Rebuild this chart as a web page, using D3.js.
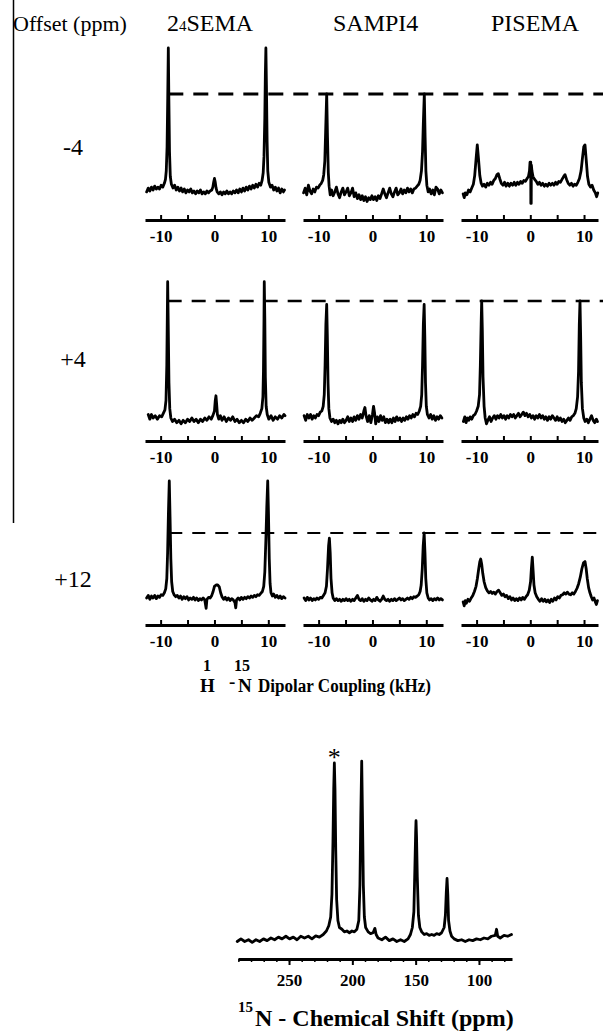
<!DOCTYPE html>
<html><head><meta charset="utf-8">
<script src="https://cdn.jsdelivr.net/npm/d3@7"></script>
<style>body{margin:0;background:#fff} svg{display:block}</style>
</head><body><svg id="c" width="603" height="1033"></svg>
<script>
// ---------------- DATA ----------------
const methods = ["SEMA", "SAMPI4", "PISEMA"];   // first is drawn as 2₄SEMA
const offsets = ["-4", "+4", "+12"];
const kHzTicks = [-10, -5, 0, 5, 10];
const kHzLabels = [-10, 0, 10];
const ppmMajorTicks = [250, 200, 150, 100];
const ppmMinorTicks = [290, 280, 270, 260, 250, 240, 230, 220, 210, 200, 190, 180, 170, 160, 150, 140, 130, 120, 110, 100, 90, 80];
const starPeak = 214.2;

// [kHz, intensity] ; intensity 1 = dashed reference level of the row
const sema_m4 = [[-12.6,-0.02],[-12.3,0.02],[-12.0,-0.01],[-11.7,0.03],[-11.4,0.0],[-11.1,0.04],[-10.8,0.01],[-10.5,0.03],[-10.2,0.01],[-9.9,0.05],[-9.6,0.03],[-9.3,0.07],[-9.1,0.11],[-8.95,0.2],[-8.8,0.45],[-8.68,0.95],[-8.57,1.48],[-8.47,0.95],[-8.35,0.4],[-8.2,0.14],[-8.0,0.06],[-7.7,0.02],[-7.4,0.05],[-7.1,0.0],[-6.8,0.03],[-6.5,-0.01],[-6.2,0.02],[-5.9,-0.02],[-5.6,0.01],[-5.3,-0.03],[-5.0,0.0],[-4.7,-0.02],[-4.4,0.01],[-4.1,-0.03],[-3.8,-0.01],[-3.5,-0.04],[-3.2,-0.01],[-2.9,-0.03],[-2.6,0.0],[-2.3,-0.04],[-2.0,-0.02],[-1.7,-0.04],[-1.4,-0.01],[-1.1,-0.03],[-0.8,-0.01],[-0.5,0.0],[-0.3,0.03],[-0.15,0.08],[0.0,0.12],[0.15,0.08],[0.3,0.02],[0.5,-0.02],[0.8,-0.04],[1.1,-0.02],[1.4,-0.05],[1.7,-0.02],[2.0,-0.04],[2.3,-0.01],[2.6,-0.04],[2.9,-0.02],[3.2,-0.04],[3.5,-0.01],[3.8,-0.03],[4.1,0.0],[4.4,-0.03],[4.7,0.01],[5.0,-0.02],[5.3,0.02],[5.6,-0.01],[5.9,0.03],[6.2,0.0],[6.5,0.04],[6.8,0.01],[7.1,0.05],[7.4,0.02],[7.7,0.06],[8.0,0.03],[8.3,0.07],[8.6,0.05],[8.85,0.1],[9.05,0.18],[9.2,0.35],[9.35,0.75],[9.45,1.2],[9.55,1.48],[9.65,1.1],[9.78,0.5],[9.9,0.2],[10.1,0.08],[10.4,0.03],[10.7,0.05],[11.0,0.0],[11.3,0.03],[11.6,-0.01],[11.9,0.02],[12.2,-0.03],[12.5,0.01],[12.8,-0.02],[13.0,0.0]];
const sampi_m4 = [[-12.8,-0.03],[-12.5,0.02],[-12.2,-0.05],[-11.9,0.05],[-11.6,-0.01],[-11.3,-0.04],[-11.0,0.01],[-10.7,-0.02],[-10.4,0.03],[-10.1,0.02],[-9.8,0.05],[-9.5,0.07],[-9.25,0.1],[-9.05,0.16],[-8.85,0.3],[-8.7,0.6],[-8.5,1.0],[-8.35,0.55],[-8.2,0.18],[-8.05,0.04],[-7.85,-0.05],[-7.6,0.0],[-7.3,-0.06],[-7.0,-0.02],[-6.7,0.03],[-6.4,-0.04],[-6.1,-0.08],[-5.8,-0.02],[-5.5,0.02],[-5.2,-0.05],[-4.9,-0.02],[-4.6,0.02],[-4.3,-0.06],[-4.0,-0.03],[-3.7,0.02],[-3.4,-0.07],[-3.1,-0.03],[-2.8,-0.09],[-2.5,-0.05],[-2.2,-0.1],[-1.9,-0.06],[-1.6,-0.11],[-1.3,-0.07],[-1.0,-0.12],[-0.7,-0.08],[-0.4,-0.1],[-0.1,-0.06],[0.2,-0.1],[0.5,-0.07],[0.8,-0.11],[1.1,-0.06],[1.4,-0.09],[1.7,-0.04],[2.0,0.01],[2.3,-0.04],[2.6,-0.08],[2.9,-0.03],[3.2,0.02],[3.5,-0.04],[3.8,-0.07],[4.1,-0.02],[4.4,0.02],[4.7,-0.05],[5.0,-0.03],[5.3,0.01],[5.6,-0.04],[5.9,0.0],[6.2,-0.03],[6.5,0.02],[6.8,-0.02],[7.1,0.01],[7.4,-0.03],[7.7,0.01],[8.0,0.02],[8.3,0.04],[8.6,0.06],[8.85,0.1],[9.1,0.2],[9.3,0.4],[9.45,0.7],[9.63,1.0],[9.78,0.55],[9.92,0.2],[10.1,0.05],[10.35,-0.02],[10.6,0.01],[10.9,-0.04],[11.2,0.0],[11.5,-0.05],[11.8,0.03],[12.1,0.01],[12.4,-0.04],[12.7,0.0],[13.0,-0.03]];
const pisema_m4 = [[-12.5,-0.04],[-12.3,-0.08],[-12.1,-0.03],[-11.8,-0.05],[-11.5,0.0],[-11.2,-0.02],[-10.9,0.02],[-10.6,0.06],[-10.35,0.15],[-10.1,0.32],[-9.87,0.47],[-9.65,0.33],[-9.4,0.15],[-9.15,0.07],[-8.9,0.04],[-8.6,0.06],[-8.3,0.03],[-8.0,0.07],[-7.7,0.05],[-7.4,0.08],[-7.1,0.06],[-6.8,0.1],[-6.5,0.12],[-6.2,0.16],[-5.96,0.17],[-5.7,0.12],[-5.4,0.07],[-5.1,0.05],[-4.8,0.08],[-4.5,0.04],[-4.2,0.07],[-3.9,0.04],[-3.6,0.07],[-3.3,0.05],[-3.0,0.08],[-2.7,0.05],[-2.4,0.08],[-2.1,0.06],[-1.8,0.09],[-1.5,0.07],[-1.2,0.1],[-0.9,0.09],[-0.6,0.12],[-0.35,0.14],[-0.15,0.2],[-0.05,0.29],[0.08,0.29],[0.1,-0.14],[0.17,-0.14],[0.2,0.26],[0.3,0.2],[0.5,0.14],[0.8,0.11],[1.1,0.09],[1.4,0.06],[1.7,0.08],[2.0,0.05],[2.3,0.07],[2.6,0.04],[2.9,0.06],[3.2,0.04],[3.5,0.07],[3.8,0.05],[4.1,0.07],[4.4,0.05],[4.7,0.08],[5.0,0.06],[5.3,0.09],[5.6,0.08],[5.9,0.11],[6.2,0.14],[6.46,0.16],[6.75,0.11],[7.05,0.07],[7.35,0.05],[7.65,0.07],[7.95,0.04],[8.25,0.06],[8.55,0.05],[8.85,0.08],[9.15,0.12],[9.45,0.2],[9.7,0.33],[9.95,0.45],[10.18,0.47],[10.4,0.32],[10.65,0.14],[10.9,0.06],[11.2,0.03],[11.5,0.05],[11.8,0.0],[12.1,-0.03],[12.35,-0.07],[12.55,-0.03]];

const sema_p4 = [[-12.3,0.03],[-12.0,-0.01],[-11.7,0.03],[-11.4,0.0],[-11.0,0.02],[-10.6,-0.01],[-10.2,0.02],[-9.8,0.01],[-9.5,0.04],[-9.2,0.07],[-9.0,0.15],[-8.85,0.45],[-8.75,0.9],[-8.69,1.165],[-8.6,0.85],[-8.45,0.3],[-8.3,0.08],[-8.1,0.0],[-7.8,-0.03],[-7.4,-0.01],[-7.0,-0.04],[-6.6,-0.02],[-6.2,-0.05],[-5.8,-0.02],[-5.4,-0.04],[-5.0,-0.01],[-4.6,-0.03],[-4.2,0.0],[-3.8,-0.03],[-3.4,-0.01],[-3.0,-0.04],[-2.6,-0.01],[-2.2,-0.03],[-1.8,0.0],[-1.4,-0.02],[-1.0,0.01],[-0.6,-0.01],[-0.3,0.02],[0.0,0.06],[0.15,0.15],[0.28,0.19],[0.4,0.12],[0.55,0.03],[0.8,-0.01],[1.1,0.02],[1.4,-0.02],[1.8,0.01],[2.2,-0.03],[2.6,0.0],[3.0,-0.02],[3.4,0.01],[3.8,-0.03],[4.2,-0.01],[4.6,-0.04],[5.0,-0.02],[5.4,-0.04],[5.8,-0.01],[6.2,-0.03],[6.6,0.0],[7.0,-0.02],[7.4,0.0],[7.8,0.02],[8.2,0.01],[8.5,0.04],[8.8,0.08],[9.0,0.18],[9.1,0.4],[9.2,0.85],[9.25,1.165],[9.35,0.85],[9.45,0.35],[9.6,0.1],[9.8,0.03],[10.1,-0.01],[10.5,0.02],[10.9,-0.02],[11.3,0.01],[11.7,-0.01],[12.1,0.02],[12.5,0.0],[12.9,0.03],[13.1,0.02]];
const sampi_p4 = [[-12.7,0.02],[-12.4,-0.02],[-12.1,0.03],[-11.8,0.0],[-11.5,0.03],[-11.2,-0.01],[-10.9,0.02],[-10.6,0.0],[-10.3,0.03],[-10.0,0.02],[-9.7,0.05],[-9.4,0.06],[-9.15,0.1],[-8.95,0.2],[-8.8,0.45],[-8.65,0.8],[-8.5,0.97],[-8.38,0.7],[-8.25,0.3],[-8.1,0.08],[-7.9,0.0],[-7.6,-0.03],[-7.3,-0.01],[-7.0,-0.04],[-6.7,-0.02],[-6.4,-0.05],[-6.1,-0.02],[-5.8,-0.04],[-5.5,-0.01],[-5.2,-0.04],[-4.9,-0.02],[-4.6,0.01],[-4.3,-0.03],[-4.0,0.0],[-3.7,-0.03],[-3.4,0.01],[-3.1,-0.02],[-2.8,0.02],[-2.5,-0.01],[-2.2,0.03],[-1.9,0.0],[-1.6,0.06],[-1.4,0.09],[-1.2,0.02],[-0.9,-0.03],[-0.6,0.02],[-0.3,-0.04],[0.0,0.03],[0.2,0.1],[0.4,0.04],[0.6,-0.05],[0.9,0.01],[1.2,-0.03],[1.5,0.02],[1.8,-0.02],[2.1,0.01],[2.4,-0.04],[2.7,-0.01],[3.0,-0.04],[3.3,-0.01],[3.6,-0.04],[3.9,0.0],[4.2,-0.03],[4.5,0.01],[4.8,-0.02],[5.1,0.0],[5.4,-0.03],[5.7,0.0],[6.0,-0.02],[6.3,0.01],[6.6,-0.01],[6.9,0.02],[7.2,0.0],[7.5,0.03],[7.8,0.01],[8.1,0.04],[8.4,0.03],[8.7,0.06],[8.95,0.1],[9.15,0.2],[9.3,0.45],[9.45,0.8],[9.6,0.97],[9.72,0.7],[9.85,0.3],[10.0,0.1],[10.2,0.03],[10.5,0.0],[10.8,0.03],[11.1,-0.01],[11.4,0.02],[11.7,-0.02],[12.0,0.01],[12.3,-0.01],[12.6,0.02],[12.9,0.0]];
const pisema_p4 = [[-12.45,-0.03],[-12.2,0.01],[-11.95,-0.04],[-11.7,0.0],[-11.45,-0.02],[-11.2,0.01],[-10.9,-0.01],[-10.6,0.02],[-10.3,0.03],[-10.0,0.06],[-9.7,0.1],[-9.45,0.2],[-9.3,0.45],[-9.15,0.8],[-9.05,1.0],[-8.93,0.75],[-8.8,0.35],[-8.6,0.1],[-8.4,0.0],[-8.15,-0.05],[-7.9,-0.02],[-7.6,0.01],[-7.3,-0.03],[-7.0,0.0],[-6.7,0.02],[-6.4,-0.01],[-6.1,0.02],[-5.8,0.0],[-5.5,0.03],[-5.2,0.0],[-4.9,0.02],[-4.6,-0.01],[-4.3,0.02],[-4.0,0.0],[-3.7,0.03],[-3.4,0.01],[-3.1,0.03],[-2.8,0.0],[-2.5,0.02],[-2.2,0.04],[-1.9,0.01],[-1.6,0.03],[-1.3,0.05],[-1.0,0.02],[-0.7,0.04],[-0.4,0.01],[-0.1,0.03],[0.2,0.0],[0.5,0.02],[0.8,-0.01],[1.1,0.02],[1.4,0.0],[1.7,0.03],[2.0,0.0],[2.3,0.02],[2.6,-0.01],[2.9,0.01],[3.2,-0.02],[3.5,0.01],[3.8,-0.01],[4.1,0.02],[4.4,0.0],[4.7,-0.02],[5.0,0.01],[5.3,-0.02],[5.6,0.0],[5.9,-0.03],[6.2,-0.01],[6.5,-0.04],[6.8,-0.02],[7.1,0.0],[7.4,-0.02],[7.7,0.01],[8.0,0.02],[8.3,0.04],[8.55,0.08],[8.8,0.18],[8.98,0.4],[9.12,0.8],[9.25,1.0],[9.37,0.7],[9.5,0.3],[9.7,0.08],[9.95,0.0],[10.2,-0.03],[10.5,-0.01],[10.8,-0.04],[11.1,-0.01],[11.4,0.02],[11.7,-0.02],[12.0,-0.04],[12.3,-0.01],[12.5,-0.03]];

const sema_p12 = [[-12.6,0.0],[-12.3,0.04],[-12.0,-0.02],[-11.7,0.03],[-11.4,0.0],[-11.1,0.04],[-10.8,-0.01],[-10.5,0.03],[-10.2,0.01],[-9.9,0.05],[-9.6,0.04],[-9.3,0.08],[-9.05,0.14],[-8.85,0.3],[-8.7,0.7],[-8.55,1.3],[-8.39,1.8],[-8.25,1.25],[-8.1,0.6],[-7.95,0.25],[-7.75,0.1],[-7.5,0.05],[-7.2,0.02],[-6.9,0.04],[-6.6,0.0],[-6.3,0.03],[-6.0,-0.02],[-5.7,0.02],[-5.4,-0.01],[-5.1,0.02],[-4.8,-0.03],[-4.5,0.0],[-4.2,-0.02],[-3.9,0.01],[-3.6,-0.03],[-3.3,0.0],[-3.0,-0.04],[-2.7,-0.01],[-2.4,-0.03],[-2.1,0.0],[-1.8,-0.03],[-1.55,-0.16],[-1.4,-0.02],[-1.1,0.01],[-0.8,0.0],[-0.5,0.04],[-0.25,0.1],[0.0,0.18],[0.3,0.2],[0.6,0.2],[0.9,0.17],[1.15,0.08],[1.4,0.02],[1.7,-0.02],[2.0,0.01],[2.3,-0.03],[2.6,0.0],[2.9,-0.04],[3.2,-0.01],[3.5,-0.03],[3.8,-0.07],[3.95,-0.15],[4.1,-0.03],[4.4,0.0],[4.7,-0.03],[5.0,0.01],[5.3,-0.02],[5.6,0.01],[5.9,-0.01],[6.2,0.02],[6.5,0.0],[6.8,0.03],[7.1,0.01],[7.4,0.04],[7.7,0.02],[8.0,0.05],[8.3,0.04],[8.6,0.07],[8.9,0.1],[9.15,0.18],[9.35,0.4],[9.55,0.9],[9.72,1.4],[9.89,1.8],[10.03,1.3],[10.18,0.6],[10.33,0.22],[10.5,0.08],[10.75,0.03],[11.0,0.06],[11.3,0.01],[11.6,0.04],[11.9,0.0],[12.2,0.03],[12.5,-0.01],[12.8,0.02],[13.1,0.0]];
const sampi_p12 = [[-12.7,0.0],[-12.4,-0.04],[-12.1,0.01],[-11.8,-0.03],[-11.5,0.0],[-11.2,-0.04],[-10.9,-0.01],[-10.6,-0.03],[-10.3,0.0],[-10.0,-0.02],[-9.7,0.01],[-9.4,0.0],[-9.1,0.04],[-8.8,0.08],[-8.55,0.18],[-8.35,0.45],[-8.15,0.8],[-8.0,0.92],[-7.85,0.7],[-7.7,0.3],[-7.5,0.08],[-7.3,0.0],[-7.0,-0.04],[-6.7,-0.01],[-6.4,-0.04],[-6.1,-0.02],[-5.8,-0.05],[-5.5,-0.02],[-5.2,-0.04],[-4.9,-0.01],[-4.6,-0.04],[-4.3,-0.02],[-4.0,-0.05],[-3.7,-0.02],[-3.4,-0.04],[-3.1,0.0],[-2.8,0.04],[-2.5,-0.02],[-2.2,-0.04],[-1.9,-0.01],[-1.6,-0.05],[-1.3,-0.02],[-1.0,-0.04],[-0.7,0.0],[-0.4,-0.03],[-0.1,-0.05],[0.2,-0.02],[0.5,-0.04],[0.8,0.01],[1.1,-0.03],[1.4,-0.05],[1.7,-0.02],[2.0,0.03],[2.3,-0.02],[2.6,-0.04],[2.9,-0.02],[3.2,-0.05],[3.5,-0.02],[3.8,-0.04],[4.1,-0.01],[4.4,-0.04],[4.7,-0.02],[5.0,0.0],[5.3,-0.03],[5.6,-0.01],[5.9,-0.04],[6.2,-0.02],[6.5,0.0],[6.8,-0.02],[7.1,0.01],[7.4,-0.01],[7.7,0.02],[8.0,0.01],[8.3,0.03],[8.6,0.05],[8.85,0.1],[9.05,0.2],[9.25,0.45],[9.42,0.8],[9.6,1.0],[9.75,0.7],[9.9,0.3],[10.1,0.08],[10.35,0.0],[10.6,-0.03],[10.9,-0.01],[11.2,-0.04],[11.5,-0.01],[11.8,-0.03],[12.1,0.0],[12.4,-0.03],[12.7,-0.01],[13.0,-0.03]];
const pisema_p12 = [[-12.5,-0.06],[-12.3,-0.12],[-12.1,-0.04],[-11.9,-0.08],[-11.6,-0.02],[-11.3,-0.05],[-11.0,0.0],[-10.7,0.04],[-10.4,0.1],[-10.1,0.18],[-9.85,0.3],[-9.6,0.45],[-9.4,0.56],[-9.23,0.6],[-9.05,0.52],[-8.85,0.38],[-8.6,0.25],[-8.3,0.16],[-8.0,0.11],[-7.7,0.08],[-7.4,0.1],[-7.1,0.07],[-6.8,0.09],[-6.5,0.06],[-6.2,0.1],[-5.9,0.12],[-5.6,0.08],[-5.3,0.04],[-5.0,0.06],[-4.7,0.02],[-4.4,0.04],[-4.1,-0.01],[-3.8,0.02],[-3.5,-0.03],[-3.2,0.0],[-2.9,-0.04],[-2.6,-0.01],[-2.3,-0.04],[-2.0,0.0],[-1.7,-0.03],[-1.4,0.01],[-1.1,-0.02],[-0.8,0.02],[-0.5,0.05],[-0.2,0.12],[0.05,0.25],[0.2,0.45],[0.37,0.63],[0.52,0.42],[0.68,0.2],[0.9,0.08],[1.2,0.02],[1.5,-0.02],[1.8,-0.05],[2.1,-0.01],[2.4,-0.05],[2.7,-0.02],[3.0,-0.06],[3.3,-0.03],[3.6,-0.07],[3.9,-0.02],[4.2,-0.05],[4.5,0.0],[4.8,-0.03],[5.1,0.02],[5.4,0.0],[5.7,0.04],[6.0,0.05],[6.3,0.08],[6.6,0.06],[6.9,0.09],[7.2,0.06],[7.5,0.05],[7.8,0.08],[8.1,0.06],[8.4,0.1],[8.7,0.15],[9.0,0.22],[9.3,0.32],[9.6,0.45],[9.9,0.54],[10.18,0.56],[10.4,0.45],[10.6,0.3],[10.85,0.16],[11.1,0.08],[11.35,0.02],[11.6,-0.03],[11.85,0.0],[12.1,-0.06],[12.3,-0.1],[12.5,-0.04]];

// [ppm, intensity] 15N spectrum, 1 = starred peak
const nShift = [[290.9,-0.02],[288,-0.005],[285,-0.02],[282,-0.01],[279.1,-0.025],[276.1,-0.01],[273.2,-0.02],[270.2,-0.005],[267.3,-0.015],[264.3,0.0],[261.4,-0.01],[258.4,0.005],[255.5,-0.005],[252.5,0.01],[249.6,-0.005],[246.6,0.005],[243.7,-0.01],[240.7,0.01],[237.8,0.0],[234.8,0.01],[231.9,-0.005],[228.9,0.012],[226,0.005],[223,0.02],[220.5,0.04],[218.6,0.07],[217.1,0.12],[216.1,0.25],[215.3,0.55],[214.7,0.85],[214.2,1.0],[213.7,0.85],[213.1,0.5],[212.4,0.22],[211.4,0.1],[210.2,0.06],[208.2,0.05],[206.3,0.035],[204.3,0.04],[202.3,0.03],[200.3,0.04],[198.4,0.035],[196.4,0.05],[194.9,0.1],[194,0.3],[193.3,0.7],[192.6,1.01],[192,0.7],[191.3,0.3],[190.5,0.12],[189.5,0.06],[187.5,0.035],[185.6,0.025],[183.6,0.03],[182.2,0.055],[181.2,0.02],[179.7,0.0],[176.7,-0.01],[173.8,0.005],[170.8,-0.015],[167.9,-0.005],[164.9,-0.02],[161.9,-0.01],[159,-0.02],[156,-0.005],[154.1,0.02],[152.6,0.06],[151.4,0.15],[150.6,0.4],[150,0.6],[149.7,0.67],[149.3,0.58],[148.7,0.35],[147.8,0.13],[146.7,0.06],[145.2,0.035],[143.2,0.02],[141.3,0.025],[139.3,0.015],[137.3,0.02],[135.4,0.015],[133.4,0.025],[131.4,0.02],[129.5,0.03],[127.5,0.06],[126.5,0.13],[125.8,0.26],[125.2,0.34],[124.6,0.25],[124,0.1],[122.9,0.04],[121.6,0.01],[119.6,-0.005],[116.7,-0.015],[113.7,-0.01],[110.8,-0.02],[107.8,-0.01],[104.9,-0.015],[101.9,-0.005],[98.9,-0.01],[96,0.0],[93,-0.005],[90.1,0.01],[87.1,0.015],[86.1,0.05],[85.2,0.01],[83.2,0.0],[80.2,0.015],[77.3,0.01],[74.3,0.02]];

// ---------------- DRAW ----------------
const SERIF = '"Liberation Serif","Times New Roman",Times,serif';
const svg = d3.select("#c");
svg.append("rect").attr("width",603).attr("height",1033).attr("fill","#fff");

const spectra = [[sema_m4, sampi_m4, pisema_m4],[sema_p4, sampi_p4, pisema_p4],[sema_p12, sampi_p12, pisema_p12]];
const colRanges = [[145,285],[303,443],[461,598]];
const colDomains = [[-12.9,13.1],[-12.9,13.1],[-12.9,12.6]];
const rowsL = [
  {base:190, unit:96,  axis:220, dw:3,   dash:"15,10", labY:155},
  {base:418, unit:117, axis:441, dw:2.5, dash:"14,10", labY:367},
  {base:598, unit:65,  axis:625, dw:2,   dash:"13,10", labY:587}
];

// left frame line
svg.append("line").attr("x1",13.5).attr("x2",13.5).attr("y1",0).attr("y2",523)
  .attr("stroke","#000").attr("stroke-width",1.5);

// header
svg.append("text").attr("x",13).attr("y",31).attr("font-family",SERIF).attr("font-size",22).text("Offset (ppm)");
const h1 = svg.append("text").attr("x",167).attr("y",31).attr("font-family",SERIF).attr("font-size",24);
h1.append("tspan").text("2");
h1.append("tspan").attr("font-size",15).text("4");
h1.append("tspan").text(methods[0]);
svg.append("text").attr("x",333).attr("y",31).attr("font-family",SERIF).attr("font-size",24).text(methods[1]);
svg.append("text").attr("x",491).attr("y",31).attr("font-family",SERIF).attr("font-size",24).text(methods[2]);

rowsL.forEach((R, r) => {
  const y = d3.scaleLinear().domain([0,1]).range([R.base, R.base - R.unit]);
  svg.append("text").attr("x",73).attr("y",R.labY).attr("text-anchor","middle")
    .attr("font-family",SERIF).attr("font-size",24).text(offsets[r]);
  let dashStart = 0;
  colRanges.forEach((rg, c) => {
    const x = d3.scaleLinear().domain(colDomains[c]).range(rg);
    const data = spectra[r][c];
    svg.append("path").datum(data)
      .attr("d", d3.line().x(d => x(d[0])).y(d => y(d[1])))
      .attr("fill","none").attr("stroke","#000").attr("stroke-width",2.8)
      .attr("stroke-linejoin","round").attr("stroke-linecap","round");
    const ax = d3.axisBottom(x).tickValues(kHzTicks).tickSize(-5).tickSizeOuter(0).tickPadding(10)
      .tickFormat(d => kHzLabels.includes(d) ? String(d) : "");
    const g = svg.append("g").attr("transform",`translate(0,${R.axis})`).call(ax);
    g.attr("font-family",SERIF).attr("font-size",17).attr("font-weight","bold");
    g.select(".domain").attr("stroke-width",3);
    g.selectAll(".tick line").attr("stroke-width",2);
    if (c === 0) {
      const lp = d3.greatest(data.filter(d => d[0] < 0), d => d[1]);
      dashStart = x(lp[0]);
    }
  });
  svg.append("line").attr("x1",dashStart).attr("x2",603).attr("y1",y(1)).attr("y2",y(1))
    .attr("stroke","#000").attr("stroke-width",R.dw).attr("stroke-dasharray",R.dash);
});

// Dipolar coupling label
const lab = (x, y, fs, t) => svg.append("text").attr("x",x).attr("y",y).attr("font-family",SERIF)
  .attr("font-size",fs).attr("font-weight","bold").text(t);
lab(200, 692, 19, "H");
lab(229, 688, 19, "-");
lab(238, 692, 19, "N");
lab(258, 692, 18.5, "Dipolar Coupling (kHz)").attr("textLength",173).attr("lengthAdjust","spacingAndGlyphs");
lab(203, 671, 16, "1");
lab(234, 671, 16, "15");

// 15N spectrum
const xp = d3.scaleLinear().domain([290.3, 73.9]).range([238, 512]);
const yp = d3.scaleLinear().domain([0,1]).range([938, 938 - 175]);
svg.append("path").datum(nShift)
  .attr("d", d3.line().x(d => xp(d[0])).y(d => yp(d[1])))
  .attr("fill","none").attr("stroke","#000").attr("stroke-width",2.8)
  .attr("stroke-linejoin","round").attr("stroke-linecap","round");
const axMinor = d3.axisBottom(xp).tickValues(ppmMinorTicks).tickSize(3).tickSizeOuter(0).tickFormat("");
const gm = svg.append("g").attr("transform","translate(0,959)").call(axMinor);
gm.select(".domain").attr("stroke-width",3);
gm.selectAll(".tick line").attr("stroke-width",1.5);
const axMajor = d3.axisBottom(xp).tickValues(ppmMajorTicks).tickSize(6).tickSizeOuter(0).tickPadding(9)
  .tickFormat(d => String(d));
const gM = svg.append("g").attr("transform","translate(0,959)").call(axMajor);
gM.attr("font-family",SERIF).attr("font-size",17).attr("font-weight","bold");
gM.select(".domain").remove();
gM.selectAll(".tick line").attr("stroke-width",2);

// asterisk
svg.append("text").attr("x",xp(starPeak)).attr("y",766).attr("text-anchor","middle")
  .attr("font-family",SERIF).attr("font-size",26).text("*");

// 15N title
lab(238, 1012, 15, "15");
lab(255, 1026, 24, "N - Chemical Shift (ppm)");
</script></body></html>
